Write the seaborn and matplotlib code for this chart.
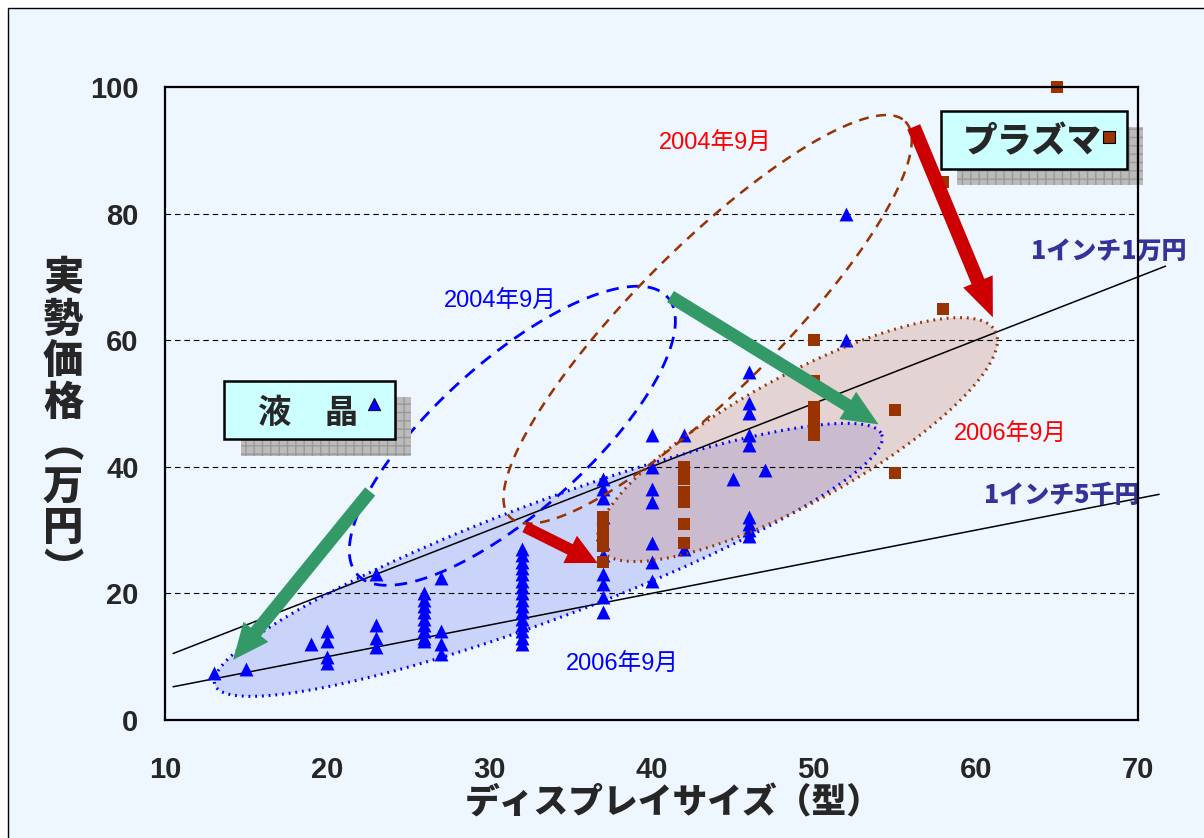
import numpy as np
import pandas as pd
import matplotlib
matplotlib.use("Agg")
import matplotlib.pyplot as plt
import seaborn as sns
from matplotlib import font_manager
from matplotlib.patches import Polygon, Rectangle, ArrowStyle

# ---------------- data ----------------
lcd_size = [13, 15, 19,
            20, 20, 20, 20,
            23, 23, 23, 23,
            26, 26, 26, 26, 26, 26, 26, 26, 26,
            27, 27, 27, 27,
            32, 32, 32, 32, 32, 32, 32, 32, 32, 32, 32, 32, 32, 32, 32, 32,
            37, 37, 37, 37, 37, 37, 37, 37, 37, 37,
            40, 40, 40, 40, 40, 40, 40,
            42, 42,
            45,
            46, 46, 46, 46, 46, 46, 46, 46, 46,
            47,
            52, 52]
lcd_price = [7.5, 8, 12,
             14, 12.5, 10, 9,
             23, 15, 13, 11.5,
             20, 19, 18, 17, 16, 15, 14, 13, 12.5,
             22.5, 14, 12, 10.5,
             27, 26, 25, 24, 23, 22, 21, 20, 19, 18, 17, 16, 15, 14, 13, 12,
             38, 36.5, 35, 32, 28, 26, 23, 21.5, 19.5, 17,
             45, 40, 36.5, 34.5, 28, 25, 22,
             45, 27,
             38,
             55, 50, 48.5, 45, 43.5, 32, 31, 30, 29,
             39.5,
             80, 60]

pdp_size = [37, 37, 37, 37, 37,
            42, 42, 42, 42, 42, 42,
            50, 50, 50, 50, 50, 50,
            55, 55,
            58, 58,
            65]
pdp_price = [32, 30.5, 29, 27.5, 25,
             40, 38, 36, 34.5, 31, 28,
             60, 53.5, 49.5, 48, 46.5, 45,
             49, 39,
             85, 65,
             100]

# guide lines: 1 inch = 10,000 yen and 1 inch = 5,000 yen
guide1_x = [10.5, 71.7]
guide1_y = [10.5, 71.7]
guide2_x = [10.5, 71.3]
guide2_y = [5.25, 35.65]

x_ticks = [10, 20, 30, 40, 50, 60, 70]
y_ticks = [0, 20, 40, 60, 80, 100]
grid_levels = [20, 40, 60, 80]

# ellipses: center, half-axis vector a, half-axis vector b (data units)
ell_lcd04 = ((31.42, 44.9), (9.57, 21.9), (3.08, -8.86))
ell_pdp04 = ((43.46, 63.3), (12.19, 31.25), (3.14, -8.05))
ell_lcd06 = ((33.64, 25.3), (20.56, 19.78), (1.26, -8.59))
ell_pdp06 = ((49.0, 44.3), (12.19, 17.17), (1.87, -8.74))

# ---------------- fonts ----------------
names = {f.name for f in font_manager.fontManager.ttflist}
narrow = 'Liberation Sans Narrow' if 'Liberation Sans Narrow' in names else 'Liberation Sans'
cjk = 'Noto Sans CJK JP'

sns.set_style("white")
plt.rcParams['font.family'] = [narrow, cjk, 'DejaVu Sans']

BG = '#EEF6FF'
BLUE = '#0000FF'
BROWN = '#993300'
GREEN = '#339966'
RED = '#CC0000'
NAVY = '#333399'

W, H = 1204, 838
fig = plt.figure(figsize=(W / 100, H / 100), dpi=100, facecolor='white')
fig.add_artist(Rectangle((8 / W, -0.05), 1.1, 1.05 - 8 / H, transform=fig.transFigure,
                         facecolor=BG, edgecolor='black', lw=1.0, zorder=-10))

ax = fig.add_axes([165 / W, 1 - 720 / H, 973 / W, 633 / H])
ax.set_facecolor(BG)
ax.set_xlim(10, 70)
ax.set_ylim(0, 100)


def ellipse_pts(spec, n=200):
    (cx, cy), (ax_, ay_), (bx_, by_) = spec
    t = np.linspace(0, 2 * np.pi, n)
    return np.column_stack([cx + ax_ * np.cos(t) + bx_ * np.sin(t),
                            cy + ay_ * np.cos(t) + by_ * np.sin(t)])


# filled ellipses (2006)
p = ellipse_pts(ell_lcd06)
ax.add_patch(Polygon(p, closed=True, facecolor=(0.55, 0.6, 0.95), alpha=0.36, edgecolor='none', zorder=1))
p2 = ellipse_pts(ell_pdp06)
ax.add_patch(Polygon(p2, closed=True, facecolor=(0.80, 0.55, 0.45), alpha=0.32, edgecolor='none', zorder=1.1))

# grid lines
for g in grid_levels:
    ax.axhline(g, color='black', lw=0.8, linestyle=(0, (5, 3.5)), zorder=1.5)

# guide lines
ax.plot(guide1_x, guide1_y, color='black', lw=1.1, zorder=2, clip_on=False)
ax.plot(guide2_x, guide2_y, color='black', lw=1.1, zorder=2, clip_on=False)

# scatter points
df_lcd = pd.DataFrame({'size': lcd_size, 'price': lcd_price})
df_pdp = pd.DataFrame({'size': pdp_size, 'price': pdp_price})
sns.scatterplot(data=df_lcd, x='size', y='price', marker='^', s=100, color=BLUE,
                linewidth=0, ax=ax, zorder=3, clip_on=False)
sns.scatterplot(data=df_pdp, x='size', y='price', marker='s', s=72, color=BROWN,
                linewidth=0, ax=ax, zorder=4.5, clip_on=False)

# dotted outlines of 2006 ellipses
ax.add_patch(Polygon(p, closed=True, fill=False, edgecolor=BLUE, lw=2.2,
                     linestyle=(0, (0.6, 1.6)), zorder=3.5))
ax.add_patch(Polygon(p2, closed=True, fill=False, edgecolor=BROWN, lw=2.2,
                     linestyle=(0, (0.6, 1.6)), zorder=3.6))

# dashed 2004 ellipses
ax.add_patch(Polygon(ellipse_pts(ell_lcd04), closed=True, fill=False, edgecolor=BLUE, lw=2.0,
                     linestyle=(0, (4.5, 3)), zorder=4))
ax.add_patch(Polygon(ellipse_pts(ell_pdp04), closed=True, fill=False, edgecolor=BROWN, lw=1.8,
                     linestyle=(0, (4, 3)), zorder=4))


def arrow(tail, tip, color, tw, hw, hl, ms=20):
    ax.annotate("", xy=tip, xytext=tail,
                arrowprops=dict(arrowstyle=ArrowStyle("simple", head_length=hl, head_width=hw, tail_width=tw),
                                fc=color, ec='none', mutation_scale=ms, shrinkA=0, shrinkB=0),
                zorder=5, annotation_clip=False)


arrow((22.65, 36.1), (14.2, 9.5), GREEN, 0.47, 1.15, 1.3)
arrow((41.17, 66.9), (54.0, 46.7), GREEN, 0.47, 1.15, 1.3)
arrow((56.17, 93.7), (61.05, 63.6), RED, 0.5, 1.15, 1.4)
arrow((32.2, 30.5), (36.67, 24.8), RED, 0.42, 1.1, 1.1)

# annotations
lab_font = ['Liberation Sans', cjk]
ax.text(43.95, 91.0, '2004年9月', color='#FF0000', fontsize=17, family=lab_font, ha='center', va='center', zorder=6)
ax.text(30.68, 66.1, '2004年9月', color=BLUE, fontsize=17, family=lab_font, ha='center', va='center', zorder=6)
ax.text(62.16, 45.1, '2006年9月', color='#FF0000', fontsize=17, family=lab_font, ha='center', va='center', zorder=6)
ax.text(38.2, 8.7, '2006年9月', color=BLUE, fontsize=17, family=lab_font, ha='center', va='center', zorder=6)

ax.text(68.2, 74.05, '1インチ1万円', color=NAVY, fontsize=18, family=[cjk], weight='black',
        ha='center', va='center', zorder=6, clip_on=False)
ax.text(65.3, 35.6, '1インチ5千円', color=NAVY, fontsize=18, family=[cjk], weight='black',
        ha='center', va='center', zorder=6, clip_on=False)

# legend boxes
ax.add_patch(Rectangle((14.69, 41.77), 10.5, 9.33, facecolor='#BBBBBB', edgecolor='#999999',
                       hatch='++', lw=0, zorder=6, clip_on=False))
ax.add_patch(Rectangle((13.64, 44.46), 10.56, 9.04, facecolor='#CCFFFF', edgecolor='black',
                       lw=1.8, zorder=6.1, clip_on=False))
ax.text(18.8, 48.5, '液　晶', fontsize=24, family=[cjk], weight='bold', ha='center', va='center',
        zorder=6.2)
ax.scatter([22.9], [49.9], marker='^', s=80, color=BLUE, edgecolor='black', linewidth=0.6, zorder=6.3)

ax.add_patch(Rectangle((58.83, 84.5), 11.47, 9.2, facecolor='#BBBBBB', edgecolor='#999999',
                       hatch='++', lw=0, zorder=6, clip_on=False))
ax.add_patch(Rectangle((57.84, 87.0), 11.48, 9.2, facecolor='#CCFFFF', edgecolor='black',
                       lw=1.8, zorder=6.1, clip_on=False))
ax.text(63.5, 91.4, 'プラズマ', fontsize=25, family=[cjk], weight='black', ha='center', va='center',
        zorder=6.2)
ax.scatter([68.2], [92.1], marker='s', s=64, color=BROWN, edgecolor='black', linewidth=0.8, zorder=6.3)

# axes styling
ax.set_xticks(x_ticks)
ax.set_yticks(y_ticks)
ax.tick_params(axis='both', direction='in', length=8, width=1.3, color='black')
ax.tick_params(axis='x', pad=26)
ax.tick_params(axis='y', pad=19)
for lbl in ax.get_xticklabels() + ax.get_yticklabels():
    lbl.set_fontfamily(narrow)
    lbl.set_fontweight('bold')
    lbl.set_fontsize(21)
for s in ax.spines.values():
    s.set_linewidth(1.6)
    s.set_color('black')
    s.set_zorder(7)

ax.set_xlabel('ディスプレイサイズ（型）', fontsize=25, family=[cjk], weight='black', va='center', ha='center')
ax.xaxis.set_label_coords((673 - 165) / 973, (720 - 803) / 633)
ax.set_ylabel('\n'.join('実勢価格︵万円︶'), fontsize=29, family=[cjk], weight='black', rotation=0,
              va='center', ha='center', linespacing=0.99)
ax.yaxis.set_label_coords((63 - 165) / 973, (720 - 424) / 633)

fig.savefig('out.png', dpi=100, facecolor=fig.get_facecolor())
